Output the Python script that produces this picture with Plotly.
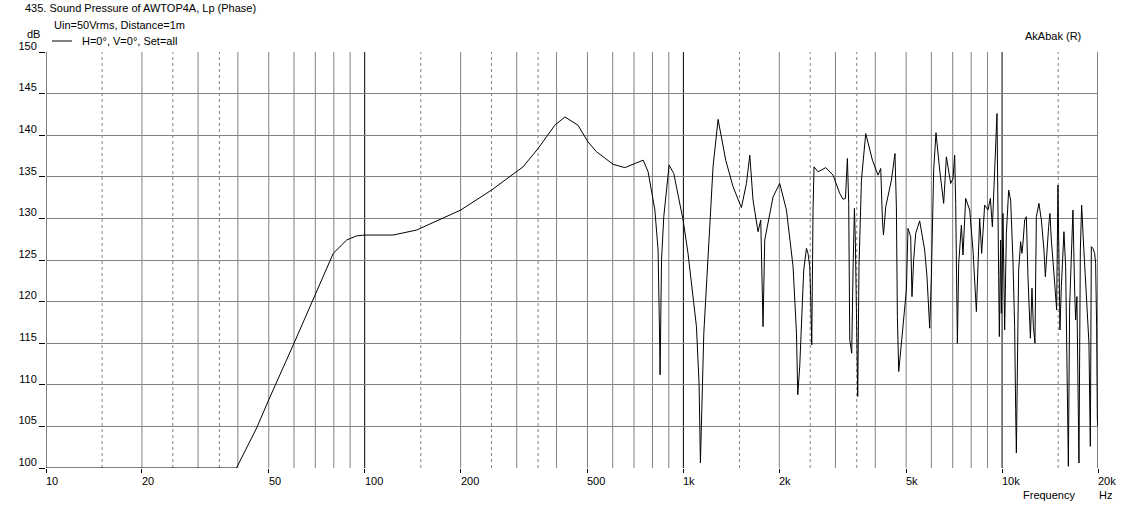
import plotly.graph_objects as go
import math

# ---------------- data ----------------
freq_hz = [
    10, 39.6, 45.8, 50, 59.7, 70.2, 79.7, 87.8, 94.3, 100, 122.8, 145.5, 200, 250, 314, 350,
    395, 425, 467, 502, 534, 602, 655, 748, 775, 814, 833, 843, 845, 854, 868, 902, 933,
    998, 1034, 1099, 1120, 1131, 1159, 1210, 1239, 1285, 1358, 1432, 1521, 1577, 1616,
    1654, 1715, 1749, 1778, 1800, 1912, 2006, 2106, 2209, 2264, 2285, 2318, 2386, 2433,
    2461, 2492, 2510, 2528, 2552, 2570, 2646, 2797, 2949, 3095, 3170, 3225, 3271, 3302,
    3327, 3375, 3407, 3441, 3466, 3491, 3524, 3557, 3620, 3734, 3920, 4081, 4162, 4213,
    4244, 4315, 4496, 4613, 4660, 4694, 4739, 4832, 4948, 5009, 5067, 5167, 5216, 5280,
    5358, 5514, 5717, 5813, 5928, 6001, 6101, 6204, 6372, 6497, 6558, 6688, 6899, 7015,
    7101, 7153, 7241, 7310, 7400, 7453, 7541, 7688, 7915, 8105, 8306, 8403, 8506, 8630,
    8819, 9031, 9190, 9324, 9480, 9639, 9757, 9806, 9899, 9950, 10044, 10065, 10190,
    10316, 10489, 10640, 10818, 10952, 11033, 11088, 11216, 11274, 11436, 11545, 11630,
    11774, 11919, 12057, 12271, 12412, 12538, 12683, 12811, 13053, 13283, 13533, 13672,
    13830, 14001, 14132, 14276, 14547, 14727, 14835, 14974, 15084, 15193, 15346, 15524,
    15638, 15831, 16026, 16144, 16293, 16568, 16688, 16893, 17018, 17175, 17302, 17427,
    17604, 17771, 17989, 18252, 18519, 18734, 18923, 19061, 19282, 19521, 19661, 19803,
    19904, 20000,
]
spl_db = [
    100, 100, 104.8, 108.2, 114.8, 121.0, 125.8, 127.4, 127.9, 128.0, 128.0, 128.6, 131.0,
    133.4, 136.2, 138.4, 141.2, 142.2, 141.2, 139.2, 138.0, 136.5, 136.1, 137.0, 135.6,
    131.0, 126.2, 114.6, 111.2, 125.0, 130.2, 136.4, 135.4, 129.8, 125.8, 117.0, 110.2,
    100.6, 116.2, 129.0, 136.2, 141.9, 137.0, 133.8, 131.3, 134.2, 137.6, 132.2, 128.4,
    129.8, 117.0, 127.4, 132.6, 134.2, 131.0, 124.2, 116.2, 108.8, 112.2, 123.8, 126.4,
    125.8, 124.2, 120.2, 114.8, 131.0, 136.2, 135.6, 136.1, 135.2, 133.0, 132.3, 132.4,
    137.2, 131.8, 115.4, 113.8, 123.8, 131.2, 127.0, 119.4, 108.6, 124.2, 134.6, 140.2,
    137.0, 135.2, 136.0, 129.8, 128.0, 131.4, 134.6, 137.8, 131.4, 118.2, 111.6, 115.0,
    119.0, 121.4, 128.8, 127.8, 120.6, 125.0, 128.2, 129.7, 126.2, 123.0, 116.8, 123.0,
    135.8, 140.3, 135.8, 133.4, 131.8, 137.4, 134.2, 134.8, 137.6, 131.8, 115.0, 124.6,
    128.6, 129.2, 125.6, 132.4, 131.0, 126.2, 118.8, 123.8, 130.0, 125.8, 131.6, 131.0,
    132.4, 129.0, 135.0, 142.6, 123.0, 115.8, 127.4, 118.6, 127.0, 130.6, 116.6, 128.2,
    133.4, 132.2, 125.0, 117.0, 107.0, 101.8, 117.4, 123.8, 127.2, 125.8, 127.0, 129.8,
    130.2, 123.0, 115.6, 121.6, 117.0, 115.0, 130.2, 131.8, 129.8, 126.2, 123.0, 126.6,
    129.0, 130.6, 127.4, 123.4, 120.2, 119.0, 134.0, 127.4, 116.6, 121.8, 125.0, 128.4,
    124.2, 106.6, 100.2, 119.4, 128.2, 131.0, 121.4, 117.8, 120.6, 108.2, 100.6, 126.2,
    131.6, 127.4, 122.6, 118.6, 115.0, 102.6, 126.6, 126.4, 125.8, 124.6, 117.0, 105.8,
    105.0,
]

x_tick_values = [10, 20, 50, 100, 200, 500, 1000, 2000, 5000, 10000, 20000]
x_tick_labels = ["10", "20", "50", "100", "200", "500", "1k", "2k", "5k", "10k", "20k"]
y_range = [100, 150]
x_range_hz = [10, 20000]

title_text = "435. Sound Pressure of AWTOP4A, Lp (Phase)"
subtitle_text = "Uin=50Vrms, Distance=1m"
series_name = "H=0°, V=0°, Set=all"
brand_text = "AkAbak (R)"

# ---------------- figure ----------------
FONT = "Liberation Sans, Arial, sans-serif"
GRID = "#808080"
W, H = 1125, 507
ML, MR, MT, MB = 46, 27, 52, 39
PW = W - ML - MR
PH = H - MT - MB

fig = go.Figure()
fig.add_trace(go.Scatter(
    x=freq_hz, y=spl_db, mode="lines", name=series_name,
    line=dict(color="black", width=1), showlegend=False, hoverinfo="skip",
))

shapes = []
# vertical grid lines
for dec in [10, 100, 1000, 10000]:
    for m in [1, 1.5, 2, 2.5, 3, 3.5, 4, 5, 6, 7, 8, 9]:
        v = dec * m
        if v > x_range_hz[1] + 1:
            continue
        if m == 1 or v == x_range_hz[1]:
            ln = dict(color="black", width=1)
        elif m in (1.5, 2.5, 3.5):
            ln = dict(color=GRID, width=1, dash="3px,3px")
        else:
            ln = dict(color=GRID, width=1)
        shapes.append(dict(type="line", xref="x", yref="paper", x0=v, x1=v, y0=0, y1=1,
                           line=ln, layer="below"))
# legend sample line
shapes.append(dict(type="line", xref="paper", yref="paper",
                   x0=6 / PW, x1=26 / PW, y0=(PH + MT - 41) / PH, y1=(PH + MT - 41) / PH,
                   line=dict(color="black", width=1)))

annotations = []
def txt(text, x, y, xanchor, xshift, yshift, xref="paper"):
    annotations.append(dict(text=text, x=x, y=y, xref=xref, yref="paper",
                            xanchor=xanchor, yanchor="middle", xshift=xshift, yshift=yshift,
                            showarrow=False, font=dict(family=FONT, size=11, color="black")))

txt(title_text, 0, 1, "left", 23 - ML, MT - 8)
txt(subtitle_text, 0, 1, "left", 52 - ML, MT - 25)
txt("dB", 0, 1, "left", 25 - ML, MT - 34)
txt(series_name, 0, 1, "left", 80 - ML, MT - 41)
txt(brand_text, 1, 1, "right", -15, MT - 36)
txt("Frequency", 1, 0, "left", 1021 - (ML + PW), -27)
txt("Hz", 1, 0, "left", 1097 - (ML + PW), -27)
for v, lab in zip(x_tick_values, x_tick_labels):
    txt(lab, math.log10(v), 0, "left", -2, -13, xref="x")

fig.update_layout(
    width=W, height=H,
    margin=dict(l=ML, r=MR, t=MT, b=MB, pad=0),
    paper_bgcolor="white", plot_bgcolor="white",
    font=dict(family=FONT, size=11, color="black"),
    shapes=shapes, annotations=annotations,
    xaxis=dict(type="log", range=[math.log10(x_range_hz[0]), math.log10(x_range_hz[1])],
               showgrid=False, zeroline=False, showline=False,
               tickvals=x_tick_values, ticks="outside", ticklen=4, tickcolor="black",
               showticklabels=False),
    yaxis=dict(range=y_range, dtick=5, tick0=100, showgrid=True, gridcolor=GRID, gridwidth=1,
               zeroline=False, showline=False, ticks="outside", ticklen=6, tickcolor="black",
               tickfont=dict(family=FONT, size=11), ticklabelshift=-6),
    showlegend=False,
    hovermode=False,
)

fig.write_html("out.html", config={"displayModeBar": False},
               post_script="document.body.style.margin='0px';")
